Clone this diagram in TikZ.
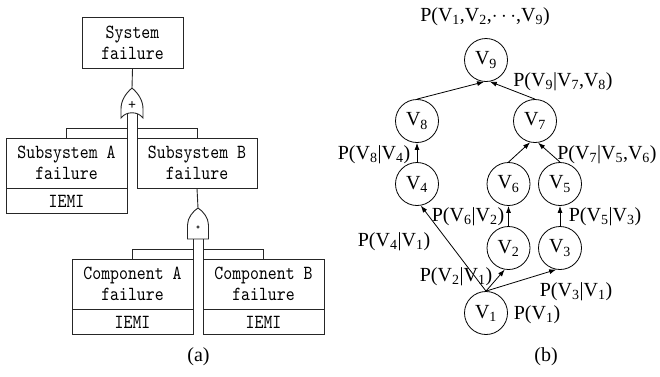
\documentclass[tikz,border=0pt]{standalone}
\usepackage{fontspec}
\setmainfont{Liberation Serif}
\newfontfamily\boxfont[Extension=.otf, FakeStretch=0.85]{lmmono10-regular}
\usepackage{tikz}
\usetikzlibrary{calc}
\usetikzlibrary{shapes}
\usetikzlibrary{arrows.meta}
\newcommand{\orgate}[2]{ \draw[gateline, shift={(#1,#2)}] (0,0) .. controls (-7,6) and (-11,13) .. (-11,21) -- (-11,30) .. controls (-6,23) and (6,23) .. (11,30) -- (11,21) .. controls (11,13) and (7,6) .. (0,0); \node[font=\bfseries\fontsize{14}{14}\selectfont, inner sep=0pt] at (#1,#2+18) {+};}
\newcommand{\andgate}[2]{ \draw[gateline, shift={(#1,#2)}] (0,0) .. controls (-5,3) and (-10.5,10) .. (-10.5,17) -- (-10.5,31) -- (10.5,31) -- (10.5,17) .. controls (10.5,10) and (5,3) .. (0,0); \draw[line width=0.6pt] (#1,#2+19) circle (1.3pt);}

\begin{document}
\begin{tikzpicture}[x=1pt,y=-1pt,
    gateline/.style={line width=0.9pt, black!85},
    evbox/.style={draw=black!85, line width=0.9pt, minimum width=121pt, minimum height=50pt, inner sep=0pt, align=center, font=\boxfont\fontsize{20}{21}\selectfont},
    iemibox/.style={evbox, minimum height=25pt},
    vnode/.style={circle, draw, line width=0.8pt, minimum size=43pt, inner sep=0pt, font=\fontsize{20}{24}\selectfont},
    lbl/.style={inner sep=0pt, font=\fontsize{20}{24}\selectfont},
    edge/.style={line width=0.8pt, -{Latex[length=7pt,width=5pt]}}]
        \useasboundingbox (0,0) rectangle (660,376);
        % fault tree
        \node[evbox, minimum width=101pt, minimum height=51pt] (sys) at (132.5,42.5) {System\\failure};
        \node[evbox] (subA) at (66.5,163) {Subsystem A\\failure};
        \node[iemibox, anchor=north] (iemiA) at (subA.south) {IEMI};
        \node[evbox, minimum width=120pt] (subB) at (197,163) {Subsystem B\\failure};
        \node[evbox] (compA) at (132.5,284) {Component A\\failure};
        \node[iemibox, anchor=north] (iemiCA) at (compA.south) {IEMI};
        \node[evbox] (compB) at (263.5,284) {Component B\\failure};
        \node[iemibox, anchor=north] (iemiCB) at (compB.south) {IEMI};
        % gates
        \orgate{132}{88}
        \andgate{198}{208}
        \coordinate (orIn) at (132,88);
        \coordinate (orL) at (127,114);
        \coordinate (orR) at (137,114);
        \coordinate (andIn) at (198,208);
        \coordinate (andL) at (193,239);
        \coordinate (andR) at (203,239);
        \draw[gateline] (sys.south) -- (orIn);
        \draw[gateline] (orL) -- (orL |- subA.north) (orL) ++(0,14) -| (subA.north);
        \draw[gateline] (orR) -- (orR |- subB.north) (orR) ++(0,14) -| (subB.north);
        \draw[gateline] (subB.south) -- (andIn);
        \draw[gateline] (andL) -- (andL |- compA.north) (andL) ++(0,10) -| (compA.north);
        \draw[gateline] (andR) -- (andR |- compB.north) (andR) ++(0,10) -| (compB.north);
        \node[lbl] (capA) at (198.5,357) {(a)};
        % network
        \node[vnode] (V9) at (486,60) {V\textsubscript{9}};
        \node[vnode] (V8) at (417,121) {V\textsubscript{8}};
        \node[vnode] (V7) at (535,121) {V\textsubscript{7}};
        \node[vnode] (V4) at (417,184) {V\textsubscript{4}};
        \node[vnode] (V6) at (508.5,184) {V\textsubscript{6}};
        \node[vnode] (V5) at (560,184) {V\textsubscript{5}};
        \node[vnode] (V2) at (508.5,248) {V\textsubscript{2}};
        \node[vnode] (V3) at (560,248) {V\textsubscript{3}};
        \node[vnode] (V1) at (486,313) {V\textsubscript{1}};
        % arrows
        \draw[edge] (V1.north) -- (V4.-80);
        \draw[edge] (V1.north) -- (V2.-100);
        \draw[edge] (V1.north) -- (V3.-100);
        \draw[edge] (V2.north) -- (V6.south);
        \draw[edge] (V3.north) -- (V5.south);
        \draw[edge] (V4.north) -- (V8.south);
        \draw[edge] (V6.north) -- (V7.-103);
        \draw[edge] (V5.north) -- (V7.-82);
        \draw[edge] (V8.north) -- (V9.-95);
        \draw[edge] (V7.north) -- (V9.-80);
        % labels
        \node[lbl] (pJoint) at (485,17) {P(V\textsubscript{1},V\textsubscript{2},$\cdots$,V\textsubscript{9})};
        \node[lbl] (p9) at (563,82) {P(V\textsubscript{9}|V\textsubscript{7},V\textsubscript{8})};
        \node[lbl] (p8) at (374,155) {P(V\textsubscript{8}|V\textsubscript{4})};
        \node[lbl] (p7) at (607,155) {P(V\textsubscript{7}|V\textsubscript{5},V\textsubscript{6})};
        \node[lbl] (p6) at (468,217) {P(V\textsubscript{6}|V\textsubscript{2})};
        \node[lbl] (p5) at (605,217) {P(V\textsubscript{5}|V\textsubscript{3})};
        \node[lbl] (p4) at (394,242) {P(V\textsubscript{4}|V\textsubscript{1})};
        \node[lbl] (p2) at (456,277) {P(V\textsubscript{2}|V\textsubscript{1})};
        \node[lbl] (p3) at (576,292) {P(V\textsubscript{3}|V\textsubscript{1})};
        \node[lbl] (p1) at (537,315) {P(V\textsubscript{1})};
        \node[lbl] (capB) at (546,357) {(b)};
\end{tikzpicture}
\end{document}
